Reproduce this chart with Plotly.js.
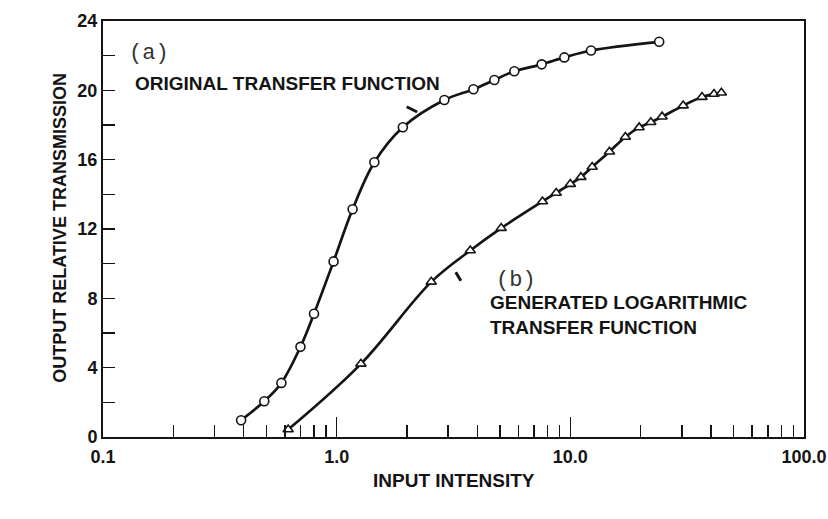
<!DOCTYPE html>
<html>
<head>
<meta charset="utf-8">
<script src="https://cdn.plot.ly/plotly-3.0.1.min.js"></script>
<style>html,body{margin:0;padding:0;background:#fff;}#chart{width:828px;height:519px;}</style>
</head>
<body>
<div id="chart"></div>
<script>
// (a) original transfer function (circles)
const xOriginal = [0.39, 0.49, 0.58, 0.70, 0.80, 0.97, 1.17, 1.45, 1.92, 2.89, 3.85, 4.73, 5.76, 7.54, 9.43, 12.26, 24.0];
const yOriginal = [0.97, 2.06, 3.12, 5.2, 7.11, 10.13, 13.14, 15.85, 17.87, 19.44, 20.06, 20.6, 21.1, 21.5, 21.9, 22.3, 22.8];
// (b) generated logarithmic transfer function (triangles)
const xGenerated = [0.62, 1.27, 2.54, 3.73, 5.06, 7.6, 8.7, 10.0, 11.1, 12.4, 14.7, 17.2, 19.7, 22.1, 24.7, 30.4, 36.6, 41.2, 44.3];
const yGenerated = [0.43, 4.22, 8.95, 10.76, 12.05, 13.59, 14.08, 14.59, 14.99, 15.58, 16.46, 17.31, 17.86, 18.16, 18.48, 19.12, 19.61, 19.79, 19.86];

// axis ticks
const xMajorVals = [0.1, 1, 10, 100];
const xMajorText = ['0.1', '1.0', '10.0', '100.0'];
const xMinorVals = [0.2,0.3,0.4,0.5,0.6,0.7,0.8,0.9, 2,3,4,5,6,7,8,9, 20,30,40,50,60,70,80,90];
const yTickVals = [0,2,4,6,8,10,12,14,16,18,20,22,24];
const yTickText = ['0','','4','','8','','12','','16','','20','','24'];

// pointer marks (data position of head, in axis values)
const pointerA = {x: 2.21, y: 18.75};
const pointerB = {x: 3.40, y: 9.02};

const ink = '#141414';
const fam = 'Liberation Sans, Arial, sans-serif';
const tickFont = {family: fam, size: 18, color: ink, weight: 'bold'};
const noteFont = {family: fam, size: 19, color: ink, weight: 'bold'};
const yTitleFont = {family: fam, size: 18, color: ink, weight: 'bold'};
const letterFont = {family: 'Liberation Mono, DejaVu Sans Mono, monospace', size: 22, color: '#333'};

const traces = [
  {
    x: xOriginal, y: yOriginal, type: 'scatter', mode: 'lines+markers',
    line: {color: ink, width: 2.7, shape: 'spline', smoothing: 1},
    marker: {symbol: 'circle', size: 9, color: '#ffffff', line: {color: ink, width: 1.6}},
    hoverinfo: 'skip', showlegend: false
  },
  {
    x: xGenerated, y: yGenerated, type: 'scatter', mode: 'lines+markers',
    line: {color: ink, width: 2.7, shape: 'spline', smoothing: 1},
    marker: {symbol: 'triangle-up', size: 9, color: '#ffffff', line: {color: ink, width: 1.6}},
    hoverinfo: 'skip', showlegend: false
  }
];

function lg(v) { return Math.log10(v); }

const layout = {
  width: 828, height: 519,
  margin: {l: 103, r: 24, t: 21, b: 81.5},
  paper_bgcolor: '#ffffff', plot_bgcolor: '#ffffff',
  showlegend: false,
  xaxis: {
    type: 'log', range: [-1, 2],
    tickmode: 'array', tickvals: xMajorVals, ticktext: xMajorText,
    ticks: 'inside', ticklen: 20, tickwidth: 1.6, tickcolor: ink,
    minor: {tickmode: 'array', tickvals: xMinorVals, ticks: 'inside', ticklen: 12, tickwidth: 1.6, tickcolor: ink, showgrid: false},
    showline: true, linecolor: ink, linewidth: 2, mirror: true,
    showgrid: false, zeroline: false,
    tickfont: tickFont, ticklabelstandoff: 2
  },
  yaxis: {
    range: [0, 24],
    tickmode: 'array', tickvals: yTickVals, ticktext: yTickText,
    ticks: 'inside', ticklen: 12, tickwidth: 1.6, tickcolor: ink,
    showline: true, linecolor: ink, linewidth: 2, mirror: true,
    showgrid: false, zeroline: false,
    tickfont: tickFont, ticklabelstandoff: 0
  },
  annotations: [
    {xref: 'paper', yref: 'paper', x: 0.0656, y: 0.923, text: '(a)', showarrow: false,
     xanchor: 'center', yanchor: 'middle', font: letterFont},
    {xref: 'paper', yref: 'paper', x: 0.0428, y: 0.849, text: 'ORIGINAL TRANSFER FUNCTION', showarrow: false,
     xanchor: 'left', yanchor: 'middle', font: noteFont},
    {xref: 'paper', yref: 'paper', x: 0.589, y: 0.3757, text: '(b)', showarrow: false,
     xanchor: 'center', yanchor: 'middle', font: letterFont},
    {xref: 'paper', yref: 'paper', x: 0.549, y: 0.293, text: 'GENERATED LOGARITHMIC<br>TRANSFER FUNCTION', showarrow: false,
     xanchor: 'left', yanchor: 'middle', align: 'left', font: noteFont},
    {xref: 'paper', yref: 'paper', x: 0.5, y: -0.1044, text: 'INPUT INTENSITY', showarrow: false,
     xanchor: 'center', yanchor: 'middle', font: noteFont},
    {xref: 'paper', yref: 'paper', x: -0.0613, y: 0.503, text: 'OUTPUT RELATIVE TRANSMISSION', showarrow: false,
     textangle: -90, xanchor: 'center', yanchor: 'middle', font: yTitleFont},
    {xref: 'x', yref: 'y', x: lg(pointerA.x), y: pointerA.y, text: '', showarrow: true, arrowhead: 0,
     arrowwidth: 3, arrowcolor: ink, ax: -12, ay: -6, standoff: 0, startstandoff: 0},
    {xref: 'x', yref: 'y', x: lg(pointerB.x), y: pointerB.y, text: '', showarrow: true, arrowhead: 0,
     arrowwidth: 3, arrowcolor: ink, ax: -6, ay: -10, standoff: 0, startstandoff: 0}
  ]
};

Plotly.newPlot('chart', traces, layout, {staticPlot: true, displayModeBar: false});
</script>
</body>
</html>
